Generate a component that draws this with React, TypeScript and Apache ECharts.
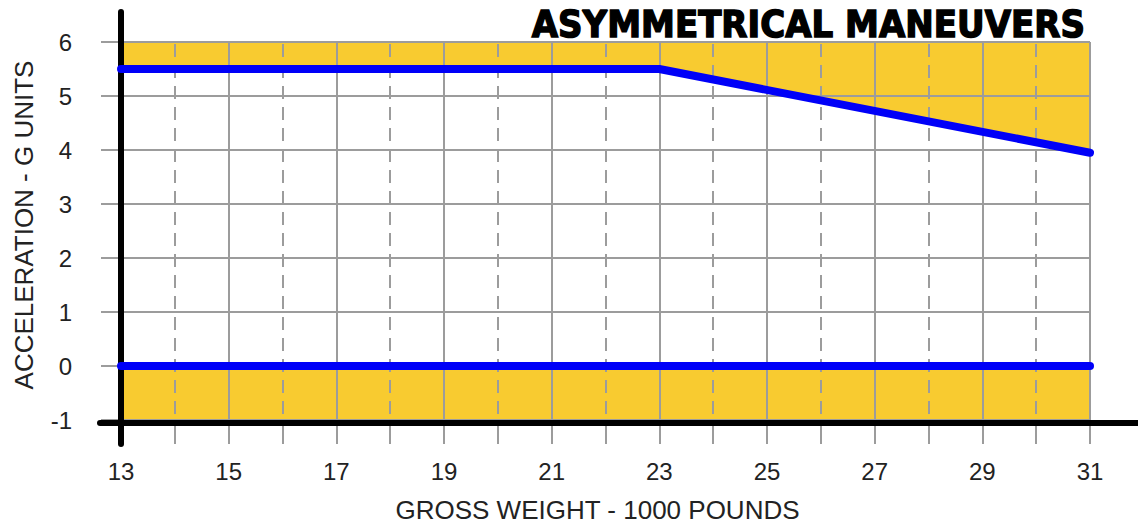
import React, { useEffect, useRef } from "react";
import * as echarts from "echarts";

// Gross weight (1000 lb) and acceleration (G) limit line
const limitWeight = [13, 23, 31];
const limitG = [5.5, 5.5, 3.95];
// Zero-G line
const zeroWeight = [13, 31];
const zeroG = [0, 0];
// Minor (dashed) grid positions
const minorWeights = [14, 16, 18, 20, 22, 24, 26, 28, 30];

const TITLE = "ASYMMETRICAL MANEUVERS";
const X_NAME = "GROSS WEIGHT - 1000 POUNDS";
const Y_NAME = "ACCELERATION - G UNITS";

const X_MIN = 13, X_MAX = 31, Y_MIN = -1, Y_MAX = 6;

export default function App() {
  const ref = useRef<HTMLDivElement>(null);
  useEffect(() => {
    if (!ref.current) return;
    const chart = echarts.init(ref.current, null, { renderer: "svg" });
    const grey = "#9c9c9c";
    const yellow = "#F8CB30";
    const blue = "#0000F8";
    const font = "Liberation Sans, Arial, sans-serif";
    const limitData = limitWeight.map((w, i) => [w, limitG[i]]);
    const zeroData = zeroWeight.map((w, i) => [w, zeroG[i]]);
    chart.setOption({
      animation: false,
      grid: { left: 121, right: 48, top: 42, bottom: 104, containLabel: false, outerBoundsMode: "none" },
      xAxis: [
        {
          type: "value",
          min: X_MIN,
          max: X_MAX,
          interval: 2,
          z: 2,
          axisLine: { show: false },
          axisTick: { show: false },
          axisLabel: { fontSize: 24, color: "#222", fontFamily: font, margin: 39 },
          splitLine: { show: true, lineStyle: { color: grey, width: 2 } },
          name: X_NAME,
          nameLocation: "middle",
          nameGap: 77,
          nameTextStyle: { fontSize: 26, color: "#222", fontFamily: font, padding: [0, 16, 0, 0] },
        },
        {
          type: "value",
          min: X_MIN,
          max: X_MAX,
          interval: 1,
          position: "bottom",
          z: 2,
          axisLine: { show: false },
          axisTick: { show: true, length: 24, lineStyle: { color: grey, width: 2 } },
          axisLabel: { show: false },
          splitLine: { show: false },
        },
      ],
      yAxis: {
        type: "value",
        min: Y_MIN,
        max: Y_MAX,
        interval: 1,
        z: 2,
        axisLine: { show: false },
        axisTick: { show: true, length: 20, lineStyle: { color: grey, width: 2 } },
        axisLabel: { fontSize: 24, color: "#222", fontFamily: font, margin: 49 },
        splitLine: { show: true, lineStyle: { color: grey, width: 2 } },
        name: Y_NAME,
        nameLocation: "middle",
        nameGap: 84,
        nameTextStyle: { fontSize: 26, color: "#222", fontFamily: font, padding: [0, 0, 0, 12] },
      },
      series: [
        {
          type: "line",
          z: 1,
          data: limitData,
          symbol: "none",
          lineStyle: { width: 0 },
          areaStyle: { origin: "end", color: yellow, opacity: 1 },
          silent: true,
        },
        {
          type: "line",
          z: 1,
          data: zeroData,
          symbol: "none",
          lineStyle: { width: 0 },
          areaStyle: { origin: "start", color: yellow, opacity: 1 },
          silent: true,
          markLine: {
            z: 2,
            silent: true,
            symbol: ["none", "none"],
            label: { show: false },
            lineStyle: { color: grey, width: 2, type: [13, 8], dashOffset: -6 },
            data: minorWeights.map((w) => ({ xAxis: w })),
          },
        },
        {
          type: "line",
          z: 4,
          data: limitData,
          symbol: "none",
          lineStyle: { width: 8, color: blue, cap: "round", join: "round" },
        },
        {
          type: "line",
          z: 4,
          data: zeroData,
          symbol: "none",
          lineStyle: { width: 8, color: blue, cap: "round" },
        },
      ],
    });
    const p0 = chart.convertToPixel({ gridIndex: 0 }, [X_MIN, Y_MIN]) as number[];
    const pTop = chart.convertToPixel({ gridIndex: 0 }, [X_MIN, Y_MAX]) as number[];
    chart.setOption({
      graphic: [
        {
          type: "line",
          z: 3,
          shape: { x1: p0[0], y1: pTop[1] - 30, x2: p0[0], y2: p0[1] + 24 },
          style: { stroke: "#000", lineWidth: 6, lineCap: "round" },
        },
        {
          type: "line",
          z: 3,
          shape: { x1: p0[0] - 21, y1: p0[1] + 3, x2: 1140, y2: p0[1] + 3 },
          style: { stroke: "#000", lineWidth: 6, lineCap: "round" },
        },
        {
          type: "text",
          z: 5,
          x: 1085,
          y: 24,
          scaleX: 0.92,
          style: {
            text: TITLE,
            align: "right",
            verticalAlign: "middle",
            fontFamily: "DejaVu Sans",
            fontWeight: "bold",
            fontSize: 37,
            fill: "#000",
            stroke: "#000",
            lineWidth: 1.5,
          },
        },
      ],
    });
    return () => chart.dispose();
  }, []);
  return (
    <div
      ref={ref}
      style={{ position: "absolute", left: 0, top: 0, width: 1138, height: 524, background: "#fff" }}
    />
  );
}
